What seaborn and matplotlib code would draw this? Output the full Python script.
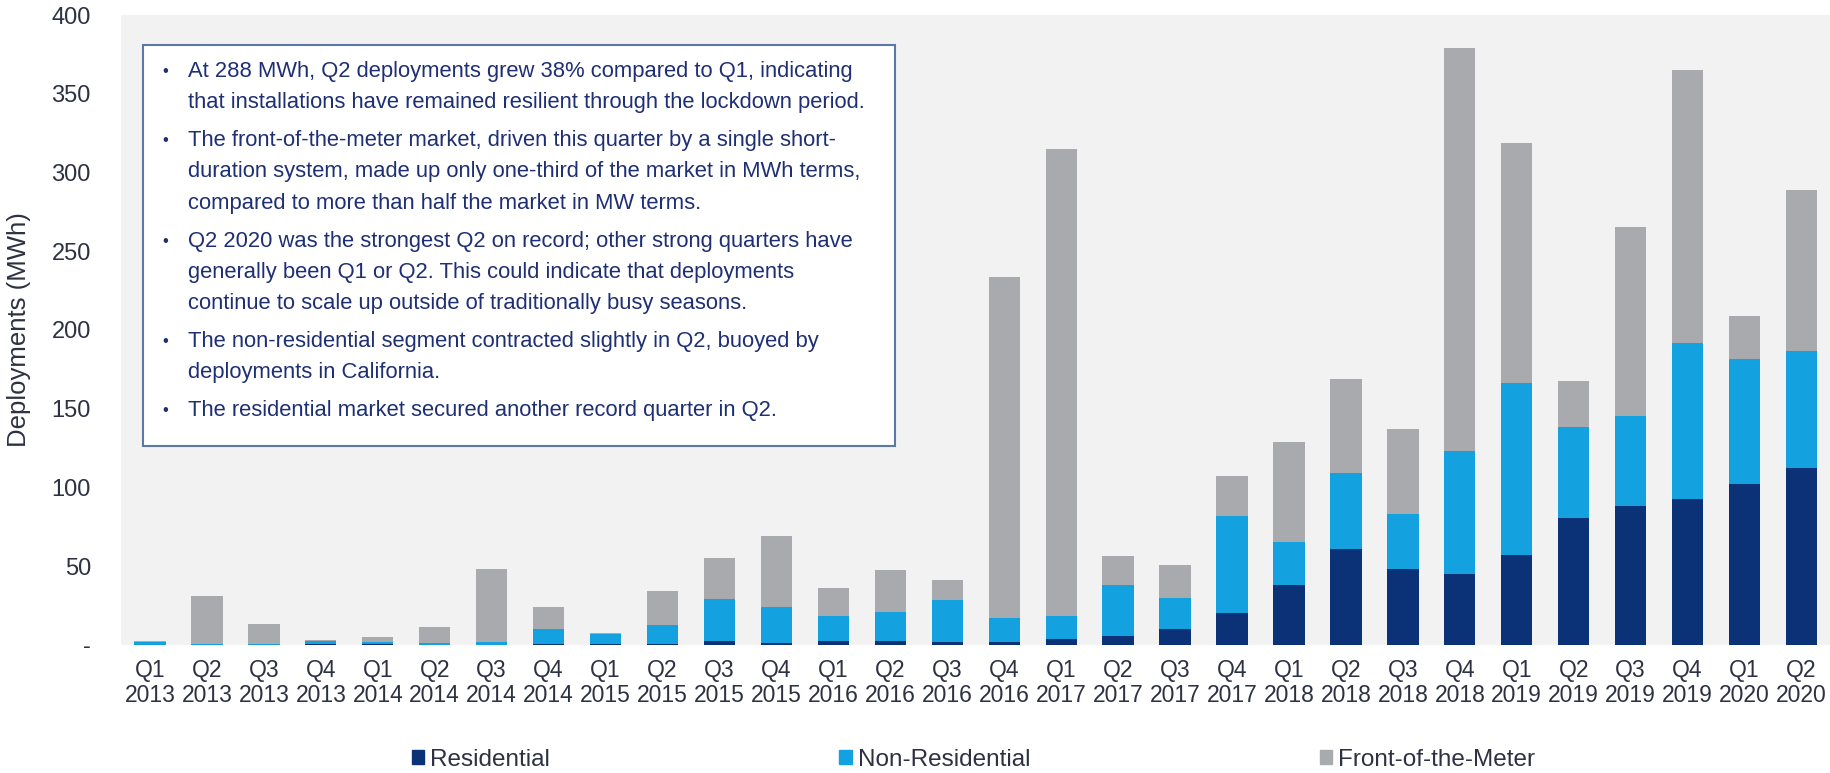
import numpy as np
import pandas as pd
import matplotlib.pyplot as plt
import matplotlib.patches as mpatches
import seaborn as sns

# Quarterly storage deployments (MWh) by segment
quarters = ['Q1', 'Q2', 'Q3', 'Q4'] * 7 + ['Q1', 'Q2']
years = ['2013'] * 4 + ['2014'] * 4 + ['2015'] * 4 + ['2016'] * 4 + ['2017'] * 4 + \
        ['2018'] * 4 + ['2019'] * 4 + ['2020'] * 2
residential = [0.0, 0.0, 0.0, 0.5, 0.5, 0.3, 0.3, 0.5, 0.5, 0.5,
               2.8, 1.5, 2.3, 2.5, 2.0, 2.0, 3.6, 5.6, 9.9, 20.4,
               38.0, 61.0, 48.5, 44.8, 57.3, 80.8, 88.0, 93.0, 102.1, 112.6]
non_residential = [2.2, 0.8, 0.5, 2.3, 1.5, 0.9, 1.7, 9.9, 6.5, 12.2,
                   26.1, 22.6, 16.1, 18.7, 26.3, 15.0, 14.8, 32.7, 19.9, 61.3,
                   27.2, 48.3, 34.4, 78.6, 109.3, 57.4, 57.3, 98.9, 79.5, 74.2]
front_of_meter = [0.4, 30.4, 12.8, 0.4, 2.8, 10.1, 46.2, 13.7, 0.9, 21.9,
                  26.4, 45.4, 17.6, 26.2, 12.8, 216.6, 296.6, 17.9, 21.2, 25.6,
                  63.8, 59.3, 54.1, 255.6, 151.9, 29.2, 120.1, 173.4, 27.0, 102.2]

y_ticks = [0, 50, 100, 150, 200, 250, 300, 350, 400]
y_tick_labels = ['-', '50', '100', '150', '200', '250', '300', '350', '400']

notes = [
    ['At 288 MWh, Q2 deployments grew 38% compared to Q1, indicating',
     'that installations have remained resilient through the lockdown period.'],
    ['The front-of-the-meter market, driven this quarter by a single short-',
     'duration system, made up only one-third of the market in MWh terms,',
     'compared to more than half the market in MW terms.'],
    ['Q2 2020 was the strongest Q2 on record; other strong quarters have',
     'generally been Q1 or Q2. This could indicate that deployments',
     'continue to scale up outside of traditionally busy seasons.'],
    ['The non-residential segment contracted slightly in Q2, buoyed by',
     'deployments in California.'],
    ['The residential market secured another record quarter in Q2.'],
]

RES_COLOR = '#0b3277'
NONRES_COLOR = '#14a1df'
FOM_COLOR = '#a8aaad'
TEXT_NAVY = '#1e2f74'
TICK_COLOR = '#2d3142'

df = pd.DataFrame({
    'label': [f'{q}\n{y}' for q, y in zip(quarters, years)],
    'Residential': residential,
    'Non-Residential': non_residential,
    'Front-of-the-Meter': front_of_meter,
})
df['res_top'] = df['Residential']
df['nonres_top'] = df['res_top'] + df['Non-Residential']
df['total'] = df['nonres_top'] + df['Front-of-the-Meter']

sns.set_style('white')
plt.rcParams['font.family'] = ['Liberation Sans', 'DejaVu Sans']

W, H = 1830, 773
fig = plt.figure(figsize=(W / 100, H / 100), dpi=100)
ax = fig.add_axes([121.5 / W, 1 - 645 / H, 1 - 121.5 / W, (645 - 15) / H])
ax.set_facecolor('#f2f2f2')

# stacked bars drawn as overlapping cumulative totals
bar_kw = dict(width=0.55, saturation=1, linewidth=0, ax=ax)
sns.barplot(data=df, x='label', y='total', color=FOM_COLOR, **bar_kw)
sns.barplot(data=df, x='label', y='nonres_top', color=NONRES_COLOR, **bar_kw)
sns.barplot(data=df, x='label', y='res_top', color=RES_COLOR, **bar_kw)

ax.set_xlim(-0.5, len(df) - 0.5)
ax.set_ylim(0, 400)
ax.set_yticks(y_ticks)
ax.set_yticklabels(y_tick_labels)
ax.tick_params(axis='both', length=0, colors=TICK_COLOR)
ax.tick_params(axis='y', pad=22, labelsize=17)
ax.tick_params(axis='x', pad=10, labelsize=16.5)
for t in ax.get_xticklabels():
    t.set_linespacing(1.13)
ax.set_xlabel('')
ax.set_ylabel('Deployments (MWh)', fontsize=18.5, color=TICK_COLOR)
ax.yaxis.set_label_coords((31 - 121.5) / (W - 121.5), 0.5)
sns.despine(ax=ax, left=True, bottom=True)

# commentary box
box_l, box_t, box_r, box_b = 143, 44.6, 895, 445.5
fig.patches.append(mpatches.Rectangle((box_l / W, 1 - box_b / H), (box_r - box_l) / W,
                                      (box_b - box_t) / H, transform=fig.transFigure,
                                      facecolor='white', edgecolor='#5b78a6', linewidth=1.5,
                                      zorder=3))
y = 71.4
for para in notes:
    fig.text(162 / W, 1 - y / H, '\u2022', fontsize=12, color=TEXT_NAVY, va='center', zorder=4)
    for line in para:
        fig.text(187.7 / W, 1 - y / H, line, fontsize=15.8, color=TEXT_NAVY, va='center', zorder=4)
        y += 31.3
    y += 6.6

# legend
handles = [mpatches.Patch(color=RES_COLOR, label='Residential'),
           mpatches.Patch(color=NONRES_COLOR, label='Non-Residential'),
           mpatches.Patch(color=FOM_COLOR, label='Front-of-the-Meter')]
fig.legend(handles=handles, loc='center', bbox_to_anchor=(973.5 / W, 1 - 760 / H), ncol=3,
           frameon=False, fontsize=17.5, handlelength=0.52, handleheight=0.52,
           handletextpad=0.25, columnspacing=11.9, labelcolor=TICK_COLOR,
           borderpad=0, borderaxespad=0)

fig.savefig('out.png', dpi=100, facecolor='white')
